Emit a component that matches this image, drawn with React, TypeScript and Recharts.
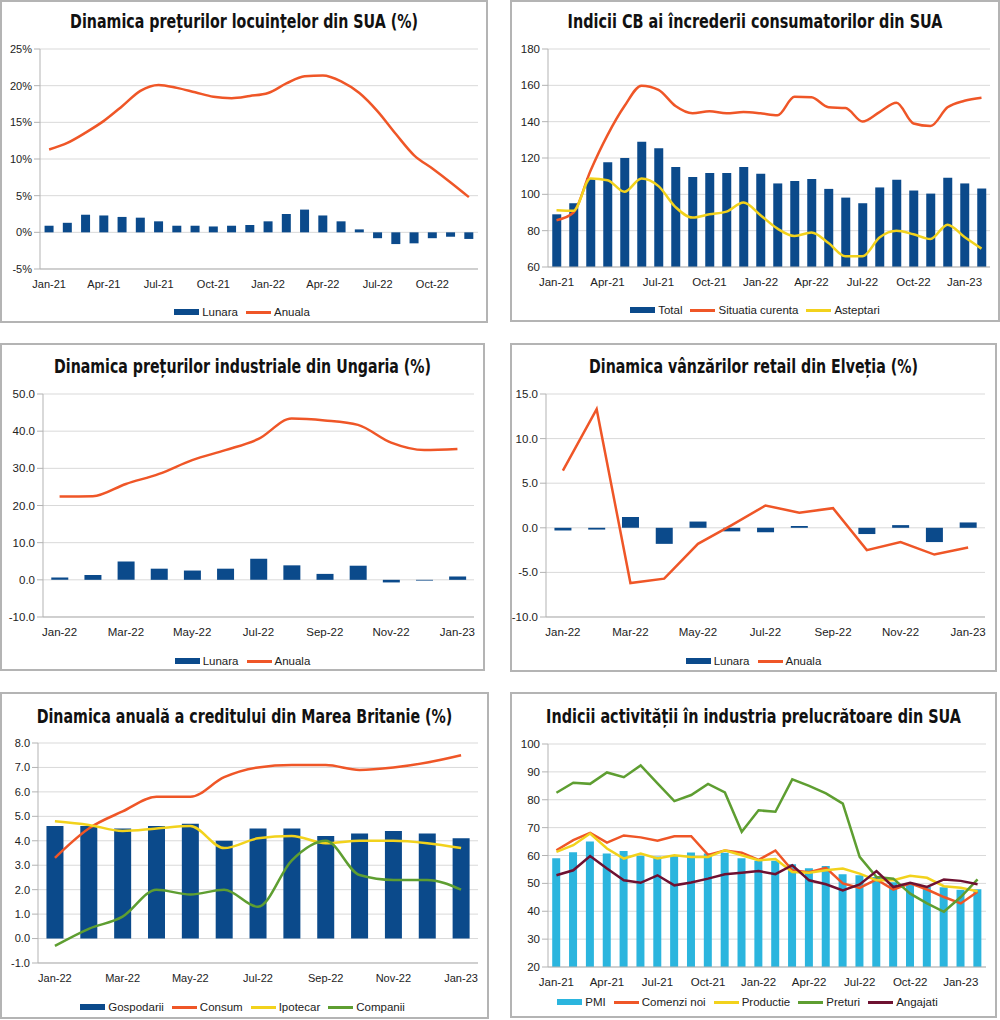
import React from 'react';
import { ComposedChart, Bar, Line, XAxis, YAxis, CartesianGrid, Legend } from 'recharts';

// ---------- colours ----------
const BLUE = '#0b4a8b';
const LIGHTBLUE = '#2bb5de';
const RED = '#ef5627';
const YELLOW = '#f2d21c';
const GREEN = '#5e9e31';
const MAROON = '#6e1131';

// ---------- categories ----------
const months2021_2022 = ['Jan-21','Feb-21','Mar-21','Apr-21','May-21','Jun-21','Jul-21','Aug-21','Sep-21','Oct-21','Nov-21','Dec-21','Jan-22','Feb-22','Mar-22','Apr-22','May-22','Jun-22','Jul-22','Aug-22','Sep-22','Oct-22','Nov-22','Dec-22'];
const months2021_2023 = [...months2021_2022, 'Jan-23', 'Feb-23'];
const months2022_2023 = ['Jan-22','Feb-22','Mar-22','Apr-22','May-22','Jun-22','Jul-22','Aug-22','Sep-22','Oct-22','Nov-22','Dec-22','Jan-23'];

// ---------- chart 1: SUA locuinte ----------
const usHouseMonthly = [0.9,1.3,2.4,2.3,2.1,2.0,1.5,0.9,0.9,0.8,0.9,1.0,1.5,2.5,3.1,2.3,1.5,0.4,-0.8,-1.6,-1.5,-0.8,-0.6,-0.9];
const usHouseAnnual = [11.3,12.2,13.6,15.2,17.2,19.3,20.1,19.7,19.1,18.5,18.3,18.6,19.0,20.3,21.3,21.4,20.6,19.0,16.5,13.4,10.5,8.7,6.8,4.8];
const usHouseTicks = [-5,0,5,10,15,20,25];

// ---------- chart 2: CB confidence ----------
const cbTotal = [89,95.1,109,117.7,120,128.9,125.3,115,109.6,111.8,111.8,115,111.3,106,107.4,108.5,103,98.2,95.1,103.8,108,102.1,100.4,109.1,106,103.2];
const cbPresent = [85.7,90,113,132.6,148.6,159.8,157.5,148.6,144.6,145.7,144.6,145.3,144.6,143.5,153.7,153.4,147.9,147.5,140.1,145.3,150.4,139,137.6,147.9,151.5,153.2];
const cbExpect = [91.3,91,108.7,107.8,101.4,108.7,104.5,93,87.2,89,90.5,95.5,88.5,81.1,77.1,79,73.2,65.9,65.9,76.2,79.9,78,75.4,83.3,76.5,70.1];
const cbTicks = [60,80,100,120,140,160,180];

// ---------- chart 3: Ungaria ----------
const huMonthly = [0.6,1.3,4.9,3.0,2.5,3.0,5.7,3.9,1.6,3.8,-0.7,-0.2,0.9];
const huAnnual = [22.4,22.5,25.8,28.5,32.2,34.9,37.9,43.4,42.9,41.7,36.9,34.9,35.2];
const huTicks = [-10,0,10,20,30,40,50];

// ---------- chart 4: Elvetia ----------
const chMonthly = [-0.3,-0.2,1.2,-1.8,0.7,-0.4,-0.5,0.2,0,-0.7,0.3,-1.6,0.6];
const chAnnual = [6.4,13.3,-6.2,-5.7,-1.8,0.3,2.5,1.7,2.2,-2.5,-1.6,-3.0,-2.2];
const chTicks = [-10,-5,0,5,10,15];

// ---------- chart 5: Marea Britanie ----------
const ukHouseholds = [4.6,4.6,4.5,4.6,4.7,4.0,4.5,4.5,4.2,4.3,4.4,4.3,4.1];
const ukConsumer = [3.3,4.5,5.2,5.8,5.8,6.6,7.0,7.1,7.1,6.9,7.0,7.2,7.5];
const ukMortgage = [4.8,4.65,4.4,4.5,4.6,3.7,4.1,4.2,3.9,4.0,4.0,3.9,3.7];
const ukCompanies = [-0.3,0.4,0.9,2.0,1.8,2.0,1.3,3.2,4.0,2.6,2.4,2.4,2.0];
const ukTicks = [-1,0,1,2,3,4,5,6,7,8];

// ---------- chart 6: ISM ----------
const ismPmi = [59.0,61.2,65.0,60.7,61.6,59.9,59.6,59.9,61.1,60.7,61.0,59.0,58.1,58.1,56.9,55.4,56.2,53.3,52.9,52.3,50.4,49.8,48.7,48.6,47.7,47.9];
const ismOrders = [61.9,65.5,68.1,64.6,67.2,66.5,65.3,66.9,66.9,60.2,61.8,61.0,58.4,61.8,54.7,54.0,55.6,50.0,48.4,51.4,47.8,50.0,47.8,45.1,42.8,47.0];
const ismProduction = [61.3,63.7,67.9,62.5,58.9,60.7,58.9,60.1,59.5,59.5,61.9,60.1,58.3,58.7,54.1,53.8,54.7,55.3,53.5,51.1,51.1,52.7,52.0,49.0,48.4,47.2];
const ismPrices = [82.5,86.1,85.7,89.8,88.1,92.3,85.9,79.5,81.7,85.7,82.6,68.5,76.2,75.7,87.3,85.0,82.3,78.6,59.5,52.3,51.7,46.3,42.8,39.8,45.1,51.4];
const ismEmployment = [52.9,54.7,59.8,55.3,51.1,50.2,52.9,49.3,50.3,51.7,53.3,53.8,54.4,53.3,56.5,51.1,49.7,47.5,49.6,54.4,48.7,50.2,48.7,51.4,50.9,49.7];
const ismTicks = [20,30,40,50,60,70,80,90,100];

type Series = { name: string; kind: 'bar' | 'line'; color: string; values: number[] };

const buildRows = (cats: string[], series: Series[]) =>
  cats.map((c, i) => {
    const row: Record<string, string | number> = { month: c };
    series.forEach((s) => { row[s.name] = s.values[i]; });
    return row;
  });

const AXIS_FONT = "'Liberation Sans', Arial, 'DejaVu Sans', sans-serif";
const TITLE_FONT = "'Liberation Sans Narrow', 'DejaVu Sans Condensed', 'Liberation Sans', sans-serif";

function Title({ w, base, text, len }: { w: number; base: number; text: string; len: number }) {
  const ref = React.useRef<SVGTextElement>(null);
  const [s, setS] = React.useState(0.6);
  React.useLayoutEffect(() => {
    if (ref.current) {
      const n = ref.current.getComputedTextLength();
      if (n > 0) setS(len / n);
    }
  }, [len, text]);
  return (
    <svg width={w} height={44} style={{ display: 'block' }}>
      <text
        ref={ref}
        transform={`translate(${w / 2},${base}) scale(${s},1)`}
        textAnchor="middle"
        fontFamily={TITLE_FONT}
        fontWeight="bold"
        fontSize={20}
        fill="#111"
      >
        {text}
      </text>
    </svg>
  );
}

type PanelProps = {
  box: { x: number; y: number; w: number; h: number };
  yWidth: number;
  margin: { top: number; right: number; bottom: number };
  title: string;
  titleLen: number;
  titleBase: number;
  cats: string[];
  series: Series[];
  ticks: number[];
  fmt: (v: number) => string;
  interval: number;
  curve: 'monotone' | 'linear';
  legendTop: number;
  legendShift?: number;
  fontSize: number;
};

const makeLegend = (order: string[], shift: number) => (props: any) => {
  const items = [...(props.payload || [])].sort(
    (a: any, b: any) => order.indexOf(a.value) - order.indexOf(b.value)
  );
  return (
    <div style={{ display: 'flex', justifyContent: 'center', alignItems: 'center', height: 18, fontFamily: AXIS_FONT, fontSize: 11.5, color: '#222', marginLeft: shift }}>
      {items.map((it: any, idx: number) => (
        <div key={it.value} style={{ display: 'flex', alignItems: 'center', marginLeft: idx === 0 ? 0 : 8 }}>
          <span style={{ display: 'inline-block', width: 25, height: it.type === 'rect' ? 6 : 3, background: it.color, marginRight: 3 }} />
          <span>{it.value}</span>
        </div>
      ))}
    </div>
  );
};

function Panel(p: PanelProps) {
  const data = buildRows(p.cats, p.series);
  const order = p.series.map((s) => s.name);
  return (
    <>
      <div style={{ position: 'absolute', left: p.box.x, top: p.box.y, width: p.box.w, height: p.box.h, border: '2px solid #b4b4b4', boxSizing: 'border-box' }} />
      <div style={{ position: 'absolute', left: p.box.x, top: p.box.y }}>
        <Title w={p.box.w} base={p.titleBase} text={p.title} len={p.titleLen} />
      </div>
      <div style={{ position: 'absolute', left: p.box.x, top: p.box.y }}>
        <ComposedChart
          width={p.box.w}
          height={p.box.h}
          data={data}
          margin={{ top: p.margin.top, right: p.margin.right, bottom: p.margin.bottom, left: 0 }}
          barCategoryGap="25%"
        >
          <CartesianGrid vertical={false} stroke="#d9d9d9" />
          <XAxis
            dataKey="month"
            interval={p.interval}
            tickLine={false}
            axisLine={{ stroke: '#b3b3b3' }}
            tickMargin={5}
            height={20}
            tick={{ fontSize: p.fontSize, fill: '#222', fontFamily: AXIS_FONT }}
          />
          <YAxis
            width={p.yWidth}
            domain={[p.ticks[0], p.ticks[p.ticks.length - 1]]}
            ticks={p.ticks}
            tickFormatter={p.fmt}
            axisLine={{ stroke: '#b3b3b3' }}
            tickLine={{ stroke: '#b3b3b3' }}
            tickSize={6}
            tickMargin={2}
            tick={{ fontSize: p.fontSize, fill: '#222', fontFamily: AXIS_FONT }}
            allowDataOverflow
          />
          <YAxis yAxisId="frame" orientation="right" width={0} domain={[0, 1]} tick={false} tickLine={false} axisLine={{ stroke: '#d0d0d0' }} />
          {p.series.filter((s) => s.kind === 'bar').map((s) => (
            <Bar key={s.name} dataKey={s.name} name={s.name} fill={s.color} legendType="rect" isAnimationActive={false} />
          ))}
          {p.series.filter((s) => s.kind === 'line').map((s) => (
            <Line key={s.name} dataKey={s.name} name={s.name} stroke={s.color} strokeWidth={2.5} type={p.curve} dot={false} legendType="line" isAnimationActive={false} />
          ))}
          <Legend
            layout="horizontal"
            verticalAlign="middle"
            align="center"
            wrapperStyle={{ top: p.legendTop, left: 0, width: p.box.w }}
            content={makeLegend(order, p.legendShift || 0)}
          />
        </ComposedChart>
      </div>
    </>
  );
}

const pct = (v: number) => `${v}%`;
const one = (v: number) => v.toFixed(1);
const int = (v: number) => `${v}`;

export default function App() {
  return (
    <div style={{ position: 'absolute', left: 0, top: 0, width: 1000, height: 1020, background: '#fff', overflow: 'hidden' }}>
      <Panel
        box={{ x: 0, y: 0, w: 488, h: 323 }}
        yWidth={40}
        margin={{ top: 49, right: 10, bottom: 34 }}
        title="Dinamica prețurilor locuințelor din SUA (%)"
        titleLen={348}
        titleBase={28}
        cats={months2021_2022}
        series={[
          { name: 'Lunara', kind: 'bar', color: BLUE, values: usHouseMonthly },
          { name: 'Anuala', kind: 'line', color: RED, values: usHouseAnnual },
        ]}
        ticks={usHouseTicks}
        fmt={pct}
        interval={2}
        curve="monotone"
        legendTop={303}
        legendShift={-4}
        fontSize={11}
      />
      <Panel
        box={{ x: 510, y: 0, w: 490, h: 322 }}
        yWidth={38}
        margin={{ top: 49, right: 10, bottom: 35 }}
        title="Indicii CB ai încrederii consumatorilor din SUA"
        titleLen={375}
        titleBase={28}
        cats={months2021_2023}
        series={[
          { name: 'Total', kind: 'bar', color: BLUE, values: cbTotal },
          { name: 'Situatia curenta', kind: 'line', color: RED, values: cbPresent },
          { name: 'Asteptari', kind: 'line', color: YELLOW, values: cbExpect },
        ]}
        ticks={cbTicks}
        fmt={int}
        interval={2}
        curve="monotone"
        legendTop={301}
        fontSize={11.5}
      />
      <Panel
        box={{ x: 0, y: 343, w: 485, h: 328 }}
        yWidth={43}
        margin={{ top: 51, right: 11, bottom: 34 }}
        title="Dinamica prețurilor industriale din Ungaria (%)"
        titleLen={377}
        titleBase={30}
        cats={months2022_2023}
        series={[
          { name: 'Lunara', kind: 'bar', color: BLUE, values: huMonthly },
          { name: 'Anuala', kind: 'line', color: RED, values: huAnnual },
        ]}
        ticks={huTicks}
        fmt={one}
        interval={1}
        curve="monotone"
        legendTop={309}
        fontSize={11.5}
      />
      <Panel
        box={{ x: 510, y: 343, w: 487, h: 329 }}
        yWidth={36}
        margin={{ top: 51, right: 12, bottom: 35 }}
        title="Dinamica vânzărilor retail din Elveția (%)"
        titleLen={329}
        titleBase={30}
        cats={months2022_2023}
        series={[
          { name: 'Lunara', kind: 'bar', color: BLUE, values: chMonthly },
          { name: 'Anuala', kind: 'line', color: RED, values: chAnnual },
        ]}
        ticks={chTicks}
        fmt={one}
        interval={1}
        curve="linear"
        legendTop={309}
        fontSize={11.5}
      />
      <Panel
        box={{ x: 0, y: 692, w: 489, h: 327 }}
        yWidth={38}
        margin={{ top: 51, right: 11, bottom: 36 }}
        title="Dinamica anuală a creditului din Marea Britanie (%)"
        titleLen={416}
        titleBase={31}
        cats={months2022_2023}
        series={[
          { name: 'Gospodarii', kind: 'bar', color: BLUE, values: ukHouseholds },
          { name: 'Consum', kind: 'line', color: RED, values: ukConsumer },
          { name: 'Ipotecar', kind: 'line', color: YELLOW, values: ukMortgage },
          { name: 'Companii', kind: 'line', color: GREEN, values: ukCompanies },
        ]}
        ticks={ukTicks}
        fmt={one}
        interval={1}
        curve="monotone"
        legendTop={306}
        legendShift={-4}
        fontSize={11}
      />
      <Panel
        box={{ x: 510, y: 692, w: 487, h: 326 }}
        yWidth={38}
        margin={{ top: 52, right: 11, bottom: 31 }}
        title="Indicii activității în industria prelucrătoare din SUA"
        titleLen={415}
        titleBase={31}
        cats={months2021_2023}
        series={[
          { name: 'PMI', kind: 'bar', color: LIGHTBLUE, values: ismPmi },
          { name: 'Comenzi noi', kind: 'line', color: RED, values: ismOrders },
          { name: 'Productie', kind: 'line', color: YELLOW, values: ismProduction },
          { name: 'Preturi', kind: 'line', color: GREEN, values: ismPrices },
          { name: 'Angajati', kind: 'line', color: MAROON, values: ismEmployment },
        ]}
        ticks={ismTicks}
        fmt={int}
        interval={2}
        curve="linear"
        legendTop={301}
        legendShift={-12}
        fontSize={11.5}
      />
    </div>
  );
}
